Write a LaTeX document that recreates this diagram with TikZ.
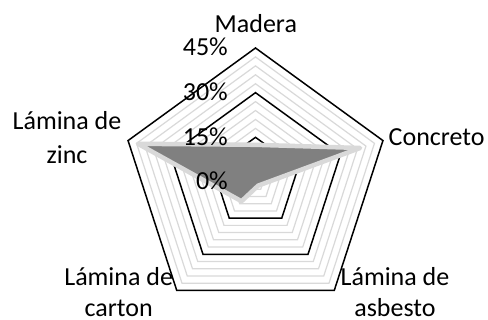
\documentclass[tikz,border=0pt]{standalone}
\usepackage{fontspec}
\setmainfont{Carlito}
\definecolor{gridgray}{HTML}{D9D9D9}
\definecolor{seriesfill}{HTML}{808080}
\definecolor{seriesline}{HTML}{D9D9D9}
\tikzset{
  minorring/.style={draw=gridgray, line width=1.2pt},
  majorring/.style={draw=black, line width=1.5pt, line join=miter},
  seriesarea/.style={fill=seriesfill, draw=seriesline, line width=4.5pt, line join=round},
  lbl/.style={font=\fontsize{26}{32}\selectfont, inner sep=0pt},
}
\begin{document}
\begin{tikzpicture}[x=1pt,y=1pt]
\fill[white] (0,0) rectangle (488,320);
\useasboundingbox (0,0) rectangle (488,320);
\coordinate (c) at (255.5,138);
\begin{scope}[shift={(c)}]
  % minor rings every 3%
  \foreach \k in {1,2,3,4,6,7,8,9,11,12,13,14}{
    \pgfmathsetmacro{\r}{\k*134/15}
    \draw[minorring] (90:\r) -- (18:\r) -- (-54:\r) -- (-126:\r) -- (162:\r) -- cycle;
  }
  % major rings 15%, 30%, 45%
  \foreach \k in {5,10,15}{
    \pgfmathsetmacro{\r}{\k*134/15}
    \draw[majorring] (90:\r) -- (18:\r) -- (-54:\r) -- (-126:\r) -- (162:\r) -- cycle;
  }
  % data series
  \coordinate (pmad) at (90:37.2);
  \coordinate (pcon) at (18:110);
  \coordinate (pasb) at (-54:4.5);
  \coordinate (pcar) at (-126:23.8);
  \coordinate (pzin) at (162:123.6);
  \draw[seriesarea] (pmad) -- (pcon) -- (pasb) -- (pcar) -- (pzin) -- cycle;
\end{scope}
% value axis labels
\node[lbl, anchor=base east] (t0)  at (228,130) {0\%};
\node[lbl, anchor=base east] (t15) at (228,174.7) {15\%};
\node[lbl, anchor=base east] (t30) at (228,219.3) {30\%};
\node[lbl, anchor=base east] (t45) at (228,264) {45\%};
% category labels
\node[lbl, anchor=base] (lmad) at (255.8,287.7) {Madera};
\node[lbl, anchor=base west] (lcon) at (388.5,174) {Concreto};
\node[lbl, anchor=base] (lzin1) at (67,190) {Lámina de};
\node[lbl, anchor=base] (lzin2) at (67,156.7) {zinc};
\node[lbl, anchor=base] (lcar1) at (118.7,34) {Lámina de};
\node[lbl, anchor=base] (lcar2) at (118.7,3) {carton};
\node[lbl, anchor=base] (lasb1) at (395,34) {Lámina de};
\node[lbl, anchor=base] (lasb2) at (395,3) {asbesto};
\end{tikzpicture}
\end{document}
